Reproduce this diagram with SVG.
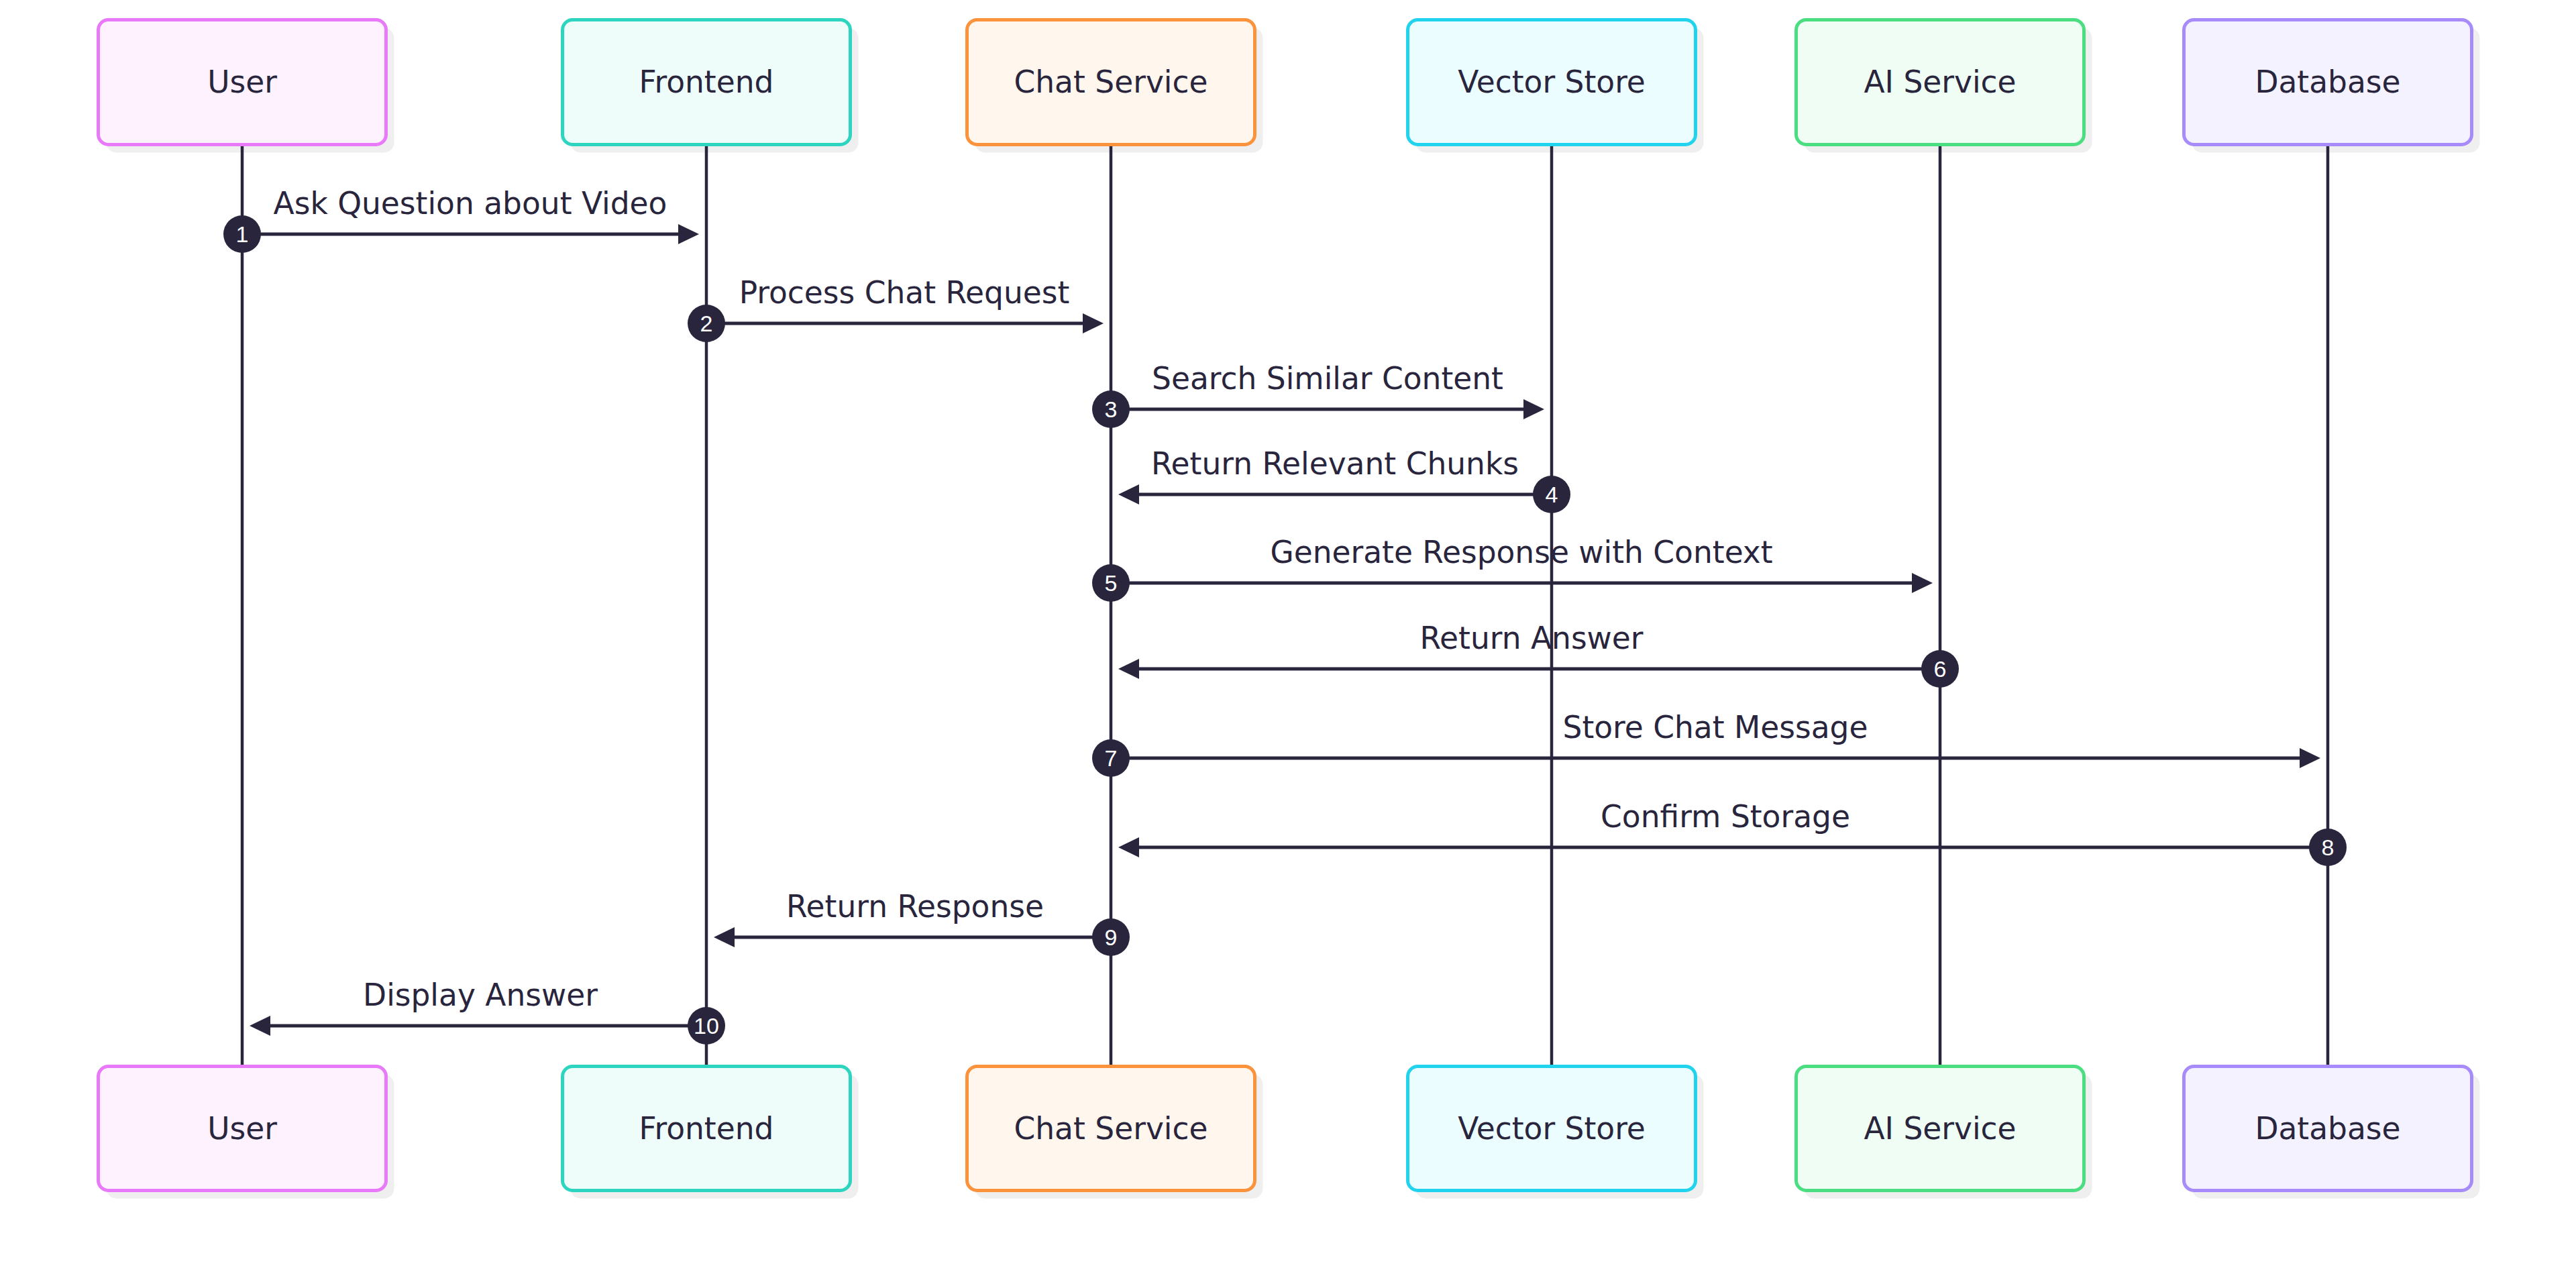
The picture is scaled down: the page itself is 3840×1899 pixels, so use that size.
<svg xmlns="http://www.w3.org/2000/svg" width="3840" height="1899" viewBox="0 0 3840 1899">
<style>
.shadow{fill:#efefef}
.box{stroke-width:5}
.lbl{font-family:"DejaVu Sans",sans-serif;font-size:45.5px;fill:#28253d;text-anchor:middle}
.life{stroke:#28253d;stroke-width:4.5}
.msg{stroke:#28253d;stroke-width:5;fill:none}
.num{fill:#28253d}
.numt{font-family:"Liberation Sans",Arial,sans-serif;font-size:34px;fill:#ffffff;text-anchor:middle}
.u{fill:#fdf2fe;stroke:#e879f9}
.f{fill:#effdfa;stroke:#2dd4bf}
.c{fill:#fff6ed;stroke:#fb923c}
.v{fill:#ebfdff;stroke:#22d3ee}
.a{fill:#effdf4;stroke:#4ade80}
.d{fill:#f4f2ff;stroke:#a78bfa}
</style>
<defs>
<marker id="ah" markerUnits="userSpaceOnUse" viewBox="0 0 31 30" markerWidth="31" markerHeight="30" refX="4" refY="15" orient="auto">
<path d="M0,0 L31,15 L0,30 z" fill="#28253d"/>
</marker>
</defs>
<rect width="3840" height="1899" fill="#ffffff"/>

<g id="node-user">
<rect class="shadow" x="158.5" y="41.5" width="429" height="186" rx="15"/>
<rect class="box u" x="146.5" y="29.5" width="429" height="186" rx="15"/>
<text class="lbl" x="361" y="138">User</text>
<rect class="shadow" x="158.5" y="1601.5" width="429" height="185" rx="15"/>
<rect class="box u" x="146.5" y="1589.5" width="429" height="185" rx="15"/>
<text class="lbl" x="361" y="1698">User</text>
</g>
<g id="node-frontend">
<rect class="shadow" x="850.5" y="41.5" width="429" height="186" rx="15"/>
<rect class="box f" x="838.5" y="29.5" width="429" height="186" rx="15"/>
<text class="lbl" x="1053" y="138">Frontend</text>
<rect class="shadow" x="850.5" y="1601.5" width="429" height="185" rx="15"/>
<rect class="box f" x="838.5" y="1589.5" width="429" height="185" rx="15"/>
<text class="lbl" x="1053" y="1698">Frontend</text>
</g>
<g id="node-chat">
<rect class="shadow" x="1453.5" y="41.5" width="429" height="186" rx="15"/>
<rect class="box c" x="1441.5" y="29.5" width="429" height="186" rx="15"/>
<text class="lbl" x="1656" y="138">Chat Service</text>
<rect class="shadow" x="1453.5" y="1601.5" width="429" height="185" rx="15"/>
<rect class="box c" x="1441.5" y="1589.5" width="429" height="185" rx="15"/>
<text class="lbl" x="1656" y="1698">Chat Service</text>
</g>
<g id="node-vector">
<rect class="shadow" x="2110.5" y="41.5" width="429" height="186" rx="15"/>
<rect class="box v" x="2098.5" y="29.5" width="429" height="186" rx="15"/>
<text class="lbl" x="2313" y="138">Vector Store</text>
<rect class="shadow" x="2110.5" y="1601.5" width="429" height="185" rx="15"/>
<rect class="box v" x="2098.5" y="1589.5" width="429" height="185" rx="15"/>
<text class="lbl" x="2313" y="1698">Vector Store</text>
</g>
<g id="node-ai">
<rect class="shadow" x="2689.5" y="41.5" width="429" height="186" rx="15"/>
<rect class="box a" x="2677.5" y="29.5" width="429" height="186" rx="15"/>
<text class="lbl" x="2892" y="138">AI Service</text>
<rect class="shadow" x="2689.5" y="1601.5" width="429" height="185" rx="15"/>
<rect class="box a" x="2677.5" y="1589.5" width="429" height="185" rx="15"/>
<text class="lbl" x="2892" y="1698">AI Service</text>
</g>
<g id="node-database">
<rect class="shadow" x="3267.5" y="41.5" width="429" height="186" rx="15"/>
<rect class="box d" x="3255.5" y="29.5" width="429" height="186" rx="15"/>
<text class="lbl" x="3470" y="138">Database</text>
<rect class="shadow" x="3267.5" y="1601.5" width="429" height="185" rx="15"/>
<rect class="box d" x="3255.5" y="1589.5" width="429" height="185" rx="15"/>
<text class="lbl" x="3470" y="1698">Database</text>
</g>

<g id="lifelines">
<line class="life" x1="361" y1="218" x2="361" y2="1587"/>
<line class="life" x1="1053" y1="218" x2="1053" y2="1587"/>
<line class="life" x1="1656" y1="218" x2="1656" y2="1587"/>
<line class="life" x1="2313" y1="218" x2="2313" y2="1587"/>
<line class="life" x1="2892" y1="218" x2="2892" y2="1587"/>
<line class="life" x1="3470" y1="218" x2="3470" y2="1587"/>
</g>

<g id="connectors">
<line class="msg" x1="361" y1="349" x2="1015" y2="349" marker-end="url(#ah)"/>
<line class="msg" x1="1053" y1="482" x2="1618" y2="482" marker-end="url(#ah)"/>
<line class="msg" x1="1656" y1="610" x2="2275" y2="610" marker-end="url(#ah)"/>
<line class="msg" x1="2313" y1="737" x2="1694" y2="737" marker-end="url(#ah)"/>
<line class="msg" x1="1656" y1="869" x2="2854" y2="869" marker-end="url(#ah)"/>
<line class="msg" x1="2892" y1="997" x2="1694" y2="997" marker-end="url(#ah)"/>
<line class="msg" x1="1656" y1="1130" x2="3432" y2="1130" marker-end="url(#ah)"/>
<line class="msg" x1="3470" y1="1263" x2="1694" y2="1263" marker-end="url(#ah)"/>
<line class="msg" x1="1656" y1="1397" x2="1091" y2="1397" marker-end="url(#ah)"/>
<line class="msg" x1="1053" y1="1529" x2="399" y2="1529" marker-end="url(#ah)"/>

<text class="lbl" x="701" y="319">Ask Question about Video</text>
<text class="lbl" x="1348" y="452">Process Chat Request</text>
<text class="lbl" x="1979" y="580">Search Similar Content</text>
<text class="lbl" x="1990" y="707">Return Relevant Chunks</text>
<text class="lbl" x="2268" y="839">Generate Response with Context</text>
<text class="lbl" x="2283" y="967">Return Answer</text>
<text class="lbl" x="2557" y="1100">Store Chat Message</text>
<text class="lbl" x="2572" y="1233">Confirm Storage</text>
<text class="lbl" x="1364" y="1367">Return Response</text>
<text class="lbl" x="716" y="1499">Display Answer</text>

<circle class="num" cx="361" cy="349" r="28"/><text class="numt" x="361" y="361">1</text>
<circle class="num" cx="1053" cy="482" r="28"/><text class="numt" x="1053" y="494">2</text>
<circle class="num" cx="1656" cy="610" r="28"/><text class="numt" x="1656" y="622">3</text>
<circle class="num" cx="2313" cy="737" r="28"/><text class="numt" x="2313" y="749">4</text>
<circle class="num" cx="1656" cy="869" r="28"/><text class="numt" x="1656" y="881">5</text>
<circle class="num" cx="2892" cy="997" r="28"/><text class="numt" x="2892" y="1009">6</text>
<circle class="num" cx="1656" cy="1130" r="28"/><text class="numt" x="1656" y="1142">7</text>
<circle class="num" cx="3470" cy="1263" r="28"/><text class="numt" x="3470" y="1275">8</text>
<circle class="num" cx="1656" cy="1397" r="28"/><text class="numt" x="1656" y="1409">9</text>
<circle class="num" cx="1053" cy="1529" r="28"/><text class="numt" x="1053" y="1541">10</text>
</g>
</svg>
